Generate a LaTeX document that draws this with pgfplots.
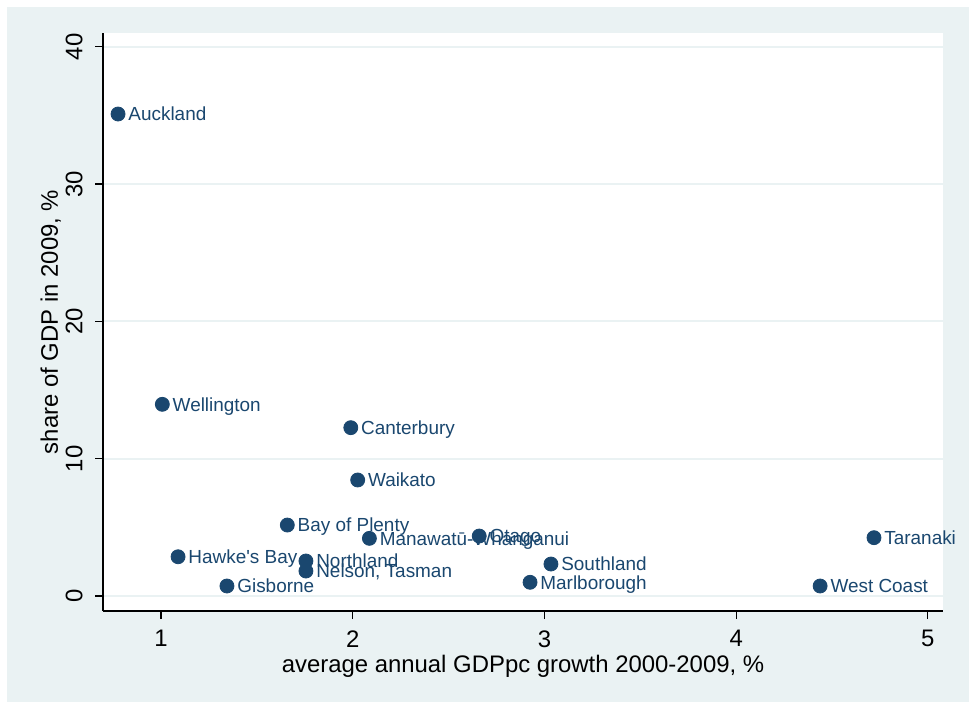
\documentclass[border=0pt]{standalone}
\usepackage{fontspec}
\setmainfont{Liberation Sans}
\usepackage{pgfplots}
\pgfplotsset{compat=1.18}

\definecolor{stbg}{HTML}{EAF2F3}
\definecolor{stgrid}{HTML}{EAF2F3}
\definecolor{stnavy}{HTML}{1A476F}

\begin{document}
\begin{tikzpicture}
% page and graph region
\useasboundingbox (0,0) rectangle (484.5bp,352bp);
\fill[white] (0,0) rectangle (484.5bp,352bp);
\fill[stbg] (3.5bp,1bp) rectangle (484.5bp,348.5bp);
\begin{axis}[
  at={(51.5bp,46.5bp)}, anchor=south west,
  scale only axis, width=420bp, height=289bp,
  xmin=0.6975, xmax=5.079, ymin=-1.09, ymax=41.0,
  axis background/.style={fill=white},
  axis lines*=left,
  axis line style={-, black, line width=0.6bp},
  xtick={1,2,3,4,5}, ytick={0,10,20,30,40},
  tick align=outside, major tick length=4bp,
  tick style={black, line width=0.6bp},
  minor tick num=0,
  ymajorgrids, major grid style={stgrid, line width=1bp},
  tick label style={font=\fontsize{12}{14}\selectfont},
  /pgf/number format/assume math mode=true,
  xticklabel style={anchor=north, inner sep=0pt, yshift=-5.5bp},
  yticklabel style={inner sep=0pt, xshift=-6bp, rotate=90, anchor=south},
  every axis x label/.style={at={(rel axis cs:0.5,0)}, anchor=base, yshift=-30.5bp, inner sep=0pt,
    font=\fontsize{12}{14}\selectfont},
  every axis y label/.style={at={(rel axis cs:0,0.5)}, xshift=-22.5bp, rotate=90, anchor=base, inner sep=0pt,
    font=\fontsize{12}{14}\selectfont},
  xlabel={average annual GDPpc growth 2000-2009, \%},
  ylabel={share of GDP in 2009, \%},
  clip=false,
]
\addplot[only marks, mark=*, mark size=3.5bp, mark options={fill=stnavy, draw=stnavy},
  point meta=explicit symbolic, nodes near coords,
  every node near coord/.style={anchor=base west, inner sep=0pt, xshift=5bp, yshift=-3.4bp,
    text=stnavy, font=\fontsize{9.5}{11}\selectfont}]
coordinates {
  (0.776,35.10) [Auckland]
  (1.007,13.96) [Wellington]
  (1.990,12.26) [Canterbury]
  (2.026,8.45)  [Waikato]
  (1.659,5.17)  [Bay of Plenty]
  (2.087,4.20)  [Manawatū-Whanganui]
  (2.660,4.37)  [Otago]
  (1.089,2.86)  [Hawke\textquotesingle s Bay]
  (1.756,2.55)  [Northland]
  (1.756,1.82)  [Nelson, Tasman]
  (1.344,0.73)  [Gisborne]
  (3.034,2.33)  [Southland]
  (2.925,1.00)  [Marlborough]
  (4.719,4.25)  [Taranaki]
  (4.438,0.73)  [West Coast]
};
\end{axis}
\end{tikzpicture}
\end{document}
